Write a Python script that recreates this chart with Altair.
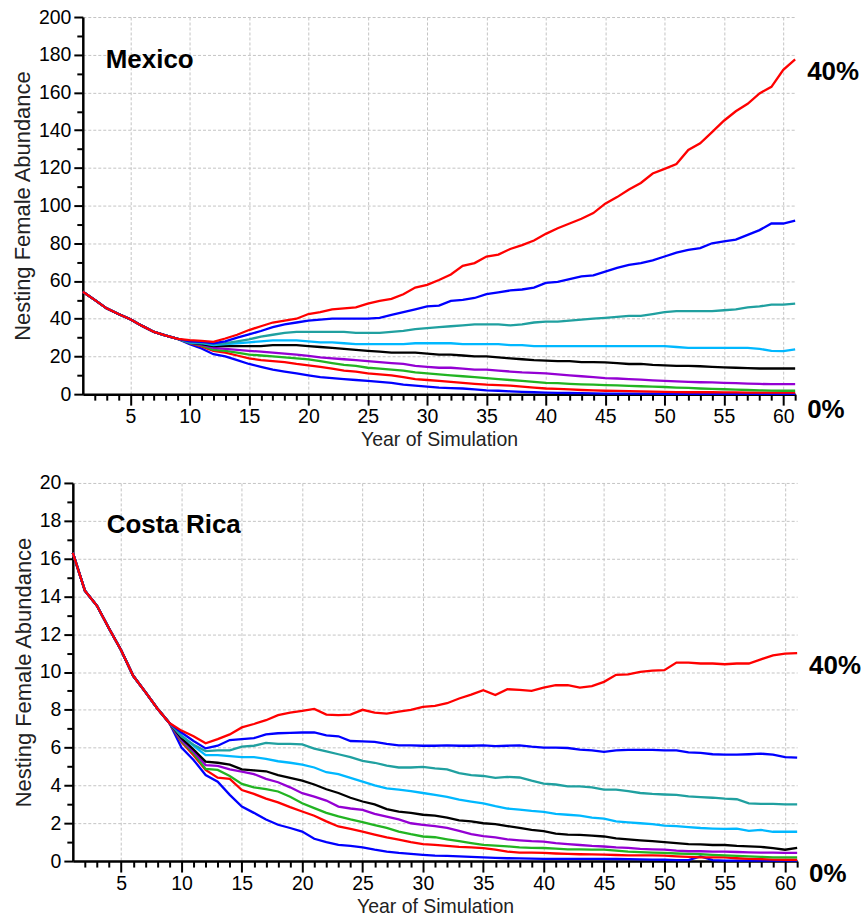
import altair as alt
import pandas as pd

# ---------------- data ----------------
years = list(range(1, 62))
series = ["0%", "5%", "10%", "15%", "20%", "25%", "30%", "35%", "40%"]
colors = ["#0000FF", "#FF0000", "#22B422", "#9400D3", "#000000",
          "#00B8FF", "#20A0A0", "#0000FF", "#FF0000"]

panel_names = ["Mexico", "Costa Rica"]
end_labels = ["40%", "0%"]
x_title = "Year of Simulation"
y_title = "Nesting Female Abundance"

x_axis_values = list(range(2, 62))          # a tick every year, labels every 5
mx_y_values = list(range(0, 201, 10))        # a tick every 10, labels every 20
cr_y_values = list(range(0, 21, 1))          # a tick every 1, labels every 2

# Mexico: years 1-9 shared by all runs
mx_early = [54.3, 50.0, 45.5, 42.5, 39.7, 36.2, 33.0, 31.0, 29.3]
# Mexico: years 10-61
mx_0 = [26.5, 24.2, 21.2, 20, 18, 16, 14.5, 13, 12, 11, 10, 9, 8.5, 8, 7.5, 7, 6.5, 6, 5, 4.5, 4, 3.5,
        3.2, 3, 2.5, 2, 1.8, 1.5, 1.2, 1, 0.8, 0.7, 0.6, 0.5, 0.4, 0.3, 0.3, 0.3, 0.3, 0.3, 0.2, 0.2,
        0.2, 0.2, 0.2, 0.2, 0.2, 0.2, 0.2, 0.2, 0.2, 0.2]
mx_5 = [27, 25.3, 23, 22, 20.5, 19, 18, 17.5, 17, 16, 15.3, 14.5, 13.5, 12.5, 12, 11, 10.5, 10, 9, 8,
        7.5, 7, 6.5, 6, 5.5, 5, 4.8, 4.5, 4, 3.5, 3, 2.8, 2.5, 2.2, 2, 1.8, 1.7, 1.6, 1.5, 1.3, 1.2,
        1.1, 1, 1, 1, 0.9, 0.9, 0.8, 0.8, 0.8, 0.8, 0.8]
mx_10 = [27.2, 25.8, 23.5, 23, 22, 21, 20.5, 20, 19.5, 19, 18.5, 17.5, 16.5, 15.5, 15, 14, 13.5, 13,
         12.5, 11.5, 11, 10.5, 10, 9.5, 9, 8.5, 8, 7.5, 7, 6.5, 6, 5.8, 5.5, 5.2, 5, 4.8, 4.6, 4.4,
         4.2, 4, 3.8, 3.5, 3.3, 3, 2.8, 2.6, 2.4, 2.2, 2, 1.9, 1.8, 1.8]
mx_15 = [27.3, 26.2, 24.5, 24, 23.5, 23, 22.5, 22, 21.5, 21, 20.3, 19.5, 19, 18.5, 18, 17.5, 17, 16.5,
         16, 15, 14.5, 14, 14, 13.5, 13, 13, 12.5, 12, 11.5, 11.3, 11, 10.5, 10, 9.5, 9, 8.5, 8.3, 8,
         7.7, 7.3, 7, 6.8, 6.5, 6.3, 6.2, 6, 5.8, 5.6, 5.4, 5.3, 5.3, 5.3]
mx_20 = [27.3, 26.5, 25.5, 25.5, 25.5, 25.5, 25.5, 26, 26, 26, 25.5, 25, 24.5, 24, 23.5, 23, 22.5, 22,
         22, 22, 21.5, 21, 21, 20.5, 20, 20, 19.5, 19, 18.5, 18, 17.8, 17.5, 17.5, 17, 17, 16.8, 16.5,
         16, 16, 15.5, 15.3, 15, 15, 14.8, 14.5, 14.2, 14, 13.8, 13.6, 13.6, 13.6, 13.6]
mx_25 = [27.3, 27, 26, 26.5, 27, 27.5, 28, 28.5, 28.5, 28.5, 28, 27.5, 27.5, 27, 26.5, 26.5, 26.5,
         26.5, 26.5, 27, 27, 27, 27, 26.5, 26.5, 26.5, 26.5, 26, 26, 25.5, 25.5, 25.5, 25.5, 25.5,
         25.5, 25.5, 25.5, 25.5, 25.5, 25.5, 25.5, 25, 24.5, 24.5, 24.5, 24.5, 24.5, 24.5, 24, 23,
         22.8, 23.8]
mx_30 = [27.5, 27.3, 26.5, 27, 28, 29, 30.5, 31.5, 32.5, 33, 33, 33, 33, 33, 32.5, 32.5, 32.5, 33,
         33.5, 34.5, 35, 35.5, 36, 36.5, 37, 37, 37, 36.5, 37, 38, 38.5, 38.5, 39, 39.5, 40, 40.5, 41,
         41.5, 41.5, 42.5, 43.5, 44, 44, 44, 44, 44.5, 45, 46, 46.5, 47.5, 47.5, 48]
mx_35 = [28, 27.8, 27, 28, 30, 31.7, 33.5, 35.5, 37, 38, 39, 39.5, 40, 40, 40, 40, 40.5, 42, 43.5, 45,
         46.5, 47, 49.5, 50, 51, 53, 54, 55, 55.5, 56.5, 59, 59.5, 61, 62.5, 63, 65, 67, 68.5, 69.5,
         71, 73, 75, 76.5, 77.5, 80, 81, 82, 84.5, 87, 90.5, 90.5, 92]
mx_40 = [28.6, 28.2, 27.7, 29.5, 31.5, 34, 36, 38, 39, 40, 42.5, 43.5, 45, 45.5, 46, 48, 49.5, 50.5,
         53, 56.5, 58, 60.5, 63.5, 68, 69.5, 73, 74, 77, 79, 81.5, 85, 88, 90.5, 93, 96, 101, 104.5,
         108.5, 112, 117, 119.5, 122, 129.5, 133, 139, 145, 150, 154, 159.5, 163, 172, 177.5]

# Costa Rica: years 1-9 shared by all runs
cr_early = [16.3, 14.3, 13.5, 12.3, 11.15, 9.8, 8.95, 8.07, 7.3]
# Costa Rica: years 10-61
cr_0 = [6.0, 5.35, 4.55, 4.2, 3.5, 2.88, 2.55, 2.2, 1.92, 1.75, 1.56, 1.18, 1.0, 0.86, 0.8, 0.72, 0.6,
        0.5, 0.43, 0.38, 0.33, 0.29, 0.27, 0.25, 0.22, 0.19, 0.17, 0.15, 0.14, 0.13, 0.12, 0.12, 0.12,
        0.12, 0.12, 0.12, 0.11, 0.1, 0.09, 0.08, 0.07, 0.05, 0.05, 0.25, 0.05, 0.02, 0.02, 0.02, 0.02,
        0.02, 0.02, 0.02]
cr_5 = [6.3, 5.6, 4.82, 4.41, 4.35, 3.76, 3.55, 3.3, 3.1, 2.85, 2.62, 2.4, 2.1, 1.83, 1.7, 1.56, 1.4,
        1.25, 1.13, 1.0, 0.9, 0.86, 0.8, 0.75, 0.72, 0.69, 0.6, 0.5, 0.45, 0.45, 0.43, 0.4, 0.38, 0.36,
        0.35, 0.34, 0.32, 0.3, 0.3, 0.3, 0.29, 0.25, 0.22, 0.2, 0.2, 0.19, 0.15, 0.12, 0.1, 0.08, 0.07,
        0.07]
cr_10 = [6.35, 5.7, 4.87, 4.82, 4.5, 4.08, 3.9, 3.8, 3.68, 3.4, 3.06, 2.8, 2.55, 2.36, 2.2, 2.06, 1.9,
         1.75, 1.56, 1.42, 1.3, 1.26, 1.15, 1.05, 0.95, 0.86, 0.82, 0.78, 0.72, 0.7, 0.69, 0.66, 0.62,
         0.62, 0.6, 0.6, 0.55, 0.5, 0.47, 0.45, 0.43, 0.4, 0.38, 0.36, 0.33, 0.3, 0.28, 0.25, 0.22, 0.2,
         0.19, 0.19]
cr_15 = [6.4, 5.8, 5.08, 5.03, 4.85, 4.73, 4.6, 4.35, 4.17, 3.9, 3.59, 3.41, 3.2, 2.88, 2.78, 2.71,
         2.5, 2.35, 2.2, 2.0, 1.92, 1.85, 1.75, 1.6, 1.42, 1.32, 1.25, 1.15, 1.1, 1.05, 1.03, 0.95, 0.9,
         0.85, 0.8, 0.77, 0.72, 0.7, 0.65, 0.62, 0.6, 0.55, 0.52, 0.52, 0.5, 0.5, 0.48, 0.46, 0.45, 0.45,
         0.43, 0.43]
cr_20 = [6.5, 5.9, 5.26, 5.2, 5.1, 4.85, 4.8, 4.75, 4.55, 4.4, 4.25, 4.05, 3.8, 3.6, 3.35, 3.15, 3.0,
         2.75, 2.62, 2.55, 2.45, 2.4, 2.3, 2.15, 2.1, 2.0, 1.95, 1.85, 1.75, 1.65, 1.58, 1.45, 1.4, 1.38,
         1.35, 1.3, 1.2, 1.15, 1.1, 1.05, 1.0, 0.95, 0.9, 0.88, 0.85, 0.85, 0.8, 0.78, 0.75, 0.68, 0.6,
         0.7]
cr_25 = [6.65, 6.1, 5.6, 5.6, 5.55, 5.5, 5.5, 5.4, 5.28, 5.2, 5.1, 4.95, 4.7, 4.6, 4.4, 4.2, 4.0, 3.85,
         3.78, 3.7, 3.6, 3.5, 3.4, 3.25, 3.15, 3.05, 2.9, 2.78, 2.72, 2.65, 2.6, 2.5, 2.45, 2.4, 2.3,
         2.25, 2.1, 2.05, 2.0, 1.95, 1.88, 1.85, 1.8, 1.75, 1.72, 1.7, 1.72, 1.6, 1.65, 1.55, 1.55, 1.55]
cr_30 = [6.6, 6.15, 5.82, 5.85, 5.85, 6.05, 6.1, 6.25, 6.2, 6.2, 6.17, 5.95, 5.8, 5.65, 5.5, 5.3, 5.2,
         5.05, 4.95, 4.95, 4.98, 4.9, 4.85, 4.65, 4.55, 4.5, 4.4, 4.45, 4.42, 4.25, 4.1, 4.05, 3.95,
         3.95, 3.9, 3.78, 3.78, 3.7, 3.6, 3.55, 3.52, 3.5, 3.42, 3.38, 3.35, 3.3, 3.27, 3.05, 3.02,
         3.02, 3.0, 3.0]
cr_35 = [6.8, 6.35, 5.96, 6.1, 6.4, 6.45, 6.5, 6.7, 6.76, 6.78, 6.8, 6.8, 6.65, 6.6, 6.35, 6.33, 6.3,
         6.2, 6.12, 6.12, 6.1, 6.1, 6.12, 6.1, 6.1, 6.12, 6.08, 6.1, 6.12, 6.05, 6.0, 6.0, 5.98, 5.9,
         5.85, 5.78, 5.85, 5.88, 5.88, 5.88, 5.86, 5.85, 5.75, 5.72, 5.65, 5.63, 5.63, 5.65, 5.68, 5.63,
         5.5, 5.47]
cr_40 = [6.9, 6.6, 6.23, 6.45, 6.7, 7.07, 7.25, 7.45, 7.72, 7.85, 7.95, 8.05, 7.75, 7.72, 7.75, 8.0,
         7.85, 7.8, 7.9, 8.0, 8.15, 8.21, 8.35, 8.6, 8.8, 9.04, 8.78, 9.09, 9.05, 9.0, 9.17, 9.3, 9.3,
         9.17, 9.25, 9.48, 9.85, 9.87, 10.01, 10.07, 10.1, 10.5, 10.5, 10.45, 10.45, 10.41, 10.45,
         10.45, 10.67, 10.88, 10.97, 11.0]

mx_runs = [mx_0, mx_5, mx_10, mx_15, mx_20, mx_25, mx_30, mx_35, mx_40]
cr_runs = [cr_0, cr_5, cr_10, cr_15, cr_20, cr_25, cr_30, cr_35, cr_40]


def long_table(early, runs):
    rows = []
    for k, (name, tail) in enumerate(zip(series, runs)):
        vals = early + tail
        for yr, v in zip(years, vals):
            rows.append({"year": yr, "value": v, "series": name, "k": k})
    return pd.DataFrame(rows)


FONT = "Liberation Sans"


def major(step):
    return f"datum.value % {step} === 0"


def panel(df, ymax, yvalues, ystep, width, height, name, name_x, name_y, l40_y, l0_y):
    xscale = alt.Scale(domain=[1, 61], nice=False, zero=False)
    yscale = alt.Scale(domain=[0, ymax], nice=False, zero=True)
    common_axis = dict(domainColor="black", domainWidth=2.5, tickColor="black", tickWidth=2,
                       labelFont=FONT, labelFontSize=19.5, labelColor="black", labelOverlap=False,
                       titleFont=FONT, titleFontWeight="normal", titleColor="#222222",
                       gridColor="#c4c4c4", gridDash=[3, 2], gridWidth=1, grid=True)
    x_axis = alt.Axis(
        values=x_axis_values, tickSize=11, labelPadding=2, labelFlush=False,
        titleFontSize=19.5, titlePadding=5,
        labelExpr=f"{major(5)} ? datum.label : ''",
        tickDash={"condition": {"test": major(5), "value": [11, 0]}, "value": [6, 30]},
        gridOpacity={"condition": {"test": major(5), "value": 1}, "value": 0},
        **common_axis)
    y_axis = alt.Axis(
        values=yvalues, tickSize=9, labelPadding=3,
        titleFontSize=22, titlePadding=4,
        labelExpr=f"{major(ystep)} ? datum.label : ''",
        tickDash={"condition": {"test": major(ystep), "value": [9, 0]}, "value": [6, 30]},
        gridOpacity={"condition": {"test": major(ystep), "value": 1}, "value": 0},
        **common_axis)
    lines = alt.Chart(df).mark_line(strokeWidth=2.3).encode(
        x=alt.X("year:Q", scale=xscale, title=x_title, axis=x_axis),
        y=alt.Y("value:Q", scale=yscale, title=y_title, axis=y_axis),
        color=alt.Color("series:N", scale=alt.Scale(domain=series, range=colors), legend=None),
        order=alt.Order("k:Q"),
    )
    title_txt = alt.Chart(pd.DataFrame({"t": [name]})).mark_text(
        font=FONT, fontSize=26, fontWeight="bold", align="left", baseline="alphabetic",
        color="black").encode(text="t:N", x=alt.value(name_x), y=alt.value(name_y))
    lab40 = alt.Chart(pd.DataFrame({"t": [end_labels[0]]})).mark_text(
        font=FONT, fontSize=26, fontWeight="bold", align="left", baseline="middle",
        color="black").encode(text="t:N", x=alt.value(width + 12), y=alt.value(l40_y))
    lab0 = alt.Chart(pd.DataFrame({"t": [end_labels[1]]})).mark_text(
        font=FONT, fontSize=26, fontWeight="bold", align="left", baseline="middle",
        color="black").encode(text="t:N", x=alt.value(width + 12), y=alt.value(l0_y))
    return alt.layer(lines, title_txt, lab40, lab0).properties(width=width, height=height)


mx_df = long_table(mx_early, mx_runs)
cr_df = long_table(cr_early, cr_runs)

top = panel(mx_df, 200, mx_y_values, 20, 714, 378, panel_names[0], 23, 51, 55, 394)
bottom = panel(cr_df, 20, cr_y_values, 2, 726, 379, panel_names[1], 34, 50, 183, 392)

# an invisible 1px spacer shifts the upper panel's plot area right of the lower one
spacer = alt.Chart(pd.DataFrame({"a": [0]})).mark_point(opacity=0).properties(width=1, height=1)
top_row = alt.hconcat(spacer, top, spacing=9, bounds="flush")

chart = alt.vconcat(top_row, bottom, spacing=24).properties(
    padding={"left": 11, "top": 6, "right": 0, "bottom": 0},
    background="white",
).configure_view(stroke=None)

chart.save("out.html", embed_options={"renderer": "svg", "actions": False})
